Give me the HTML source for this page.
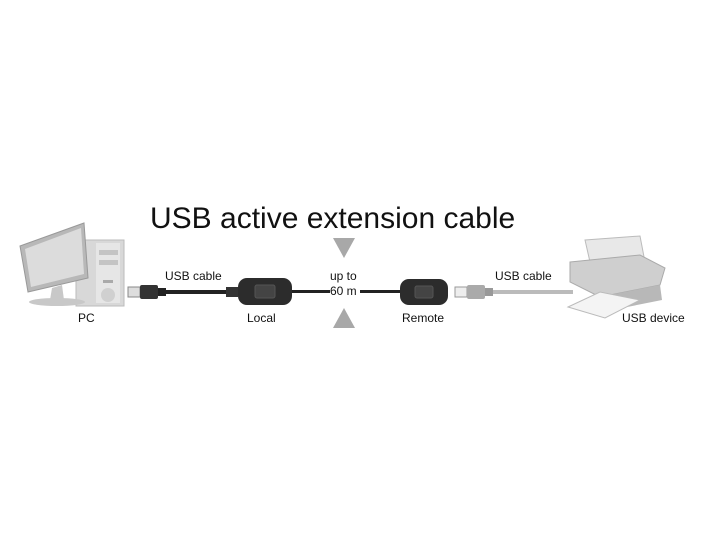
<!DOCTYPE html>
<html><head><style>body{margin:0;background:#fff}svg{display:block}text{font-family:"Liberation Sans",sans-serif;fill:#111}</style></head>
<body>
<svg width="706" height="549" viewBox="0 0 706 549">
<text x="150" y="228" font-size="30">USB active extension cable</text>
<polygon points="333,238 355,238 344,258" fill="#a8a8a8"/>
<polygon points="333,328 355,328 344,308" fill="#a8a8a8"/>
<!-- PC -->
<rect x="76" y="240" width="48" height="66" fill="#d8d8d8" stroke="#bbb"/>
<rect x="96" y="243" width="24" height="60" fill="#e6e6e6"/>
<rect x="99" y="250" width="19" height="5" fill="#c4c4c4"/>
<rect x="99" y="260" width="19" height="5" fill="#c4c4c4"/>
<rect x="103" y="280" width="10" height="3" fill="#aaa"/>
<circle cx="108" cy="295" r="7" fill="#d0d0d0"/>
<polygon points="20,246 84,223 88,278 28,292" fill="#b8b8b8" stroke="#999"/>
<polygon points="25,249 81,228 84,274 31,287" fill="#dcdcdc"/>
<polygon points="52,288 62,285 64,300 50,300" fill="#c8c8c8"/>
<ellipse cx="57" cy="302" rx="28" ry="4" fill="#c8c8c8"/>
<!-- left cable -->
<rect x="128" y="287" width="12" height="10" fill="#ddd" stroke="#888"/>
<rect x="140" y="285" width="18" height="14" rx="2" fill="#333"/>
<rect x="158" y="288" width="8" height="8" fill="#222"/>
<rect x="166" y="290" width="66" height="4" fill="#222"/>
<rect x="226" y="287" width="12" height="10" fill="#333"/>
<rect x="238" y="278" width="54" height="27" rx="9" fill="#2c2c2c"/>
<rect x="255" y="285" width="20" height="13" rx="2" fill="#444" stroke="#555"/>
<rect x="292" y="290" width="38" height="3" fill="#222"/>
<rect x="360" y="290" width="42" height="3" fill="#222"/>
<rect x="400" y="279" width="48" height="26" rx="9" fill="#2c2c2c"/>
<rect x="415" y="286" width="18" height="12" rx="2" fill="#444" stroke="#555"/>
<!-- right cable -->
<rect x="455" y="287" width="12" height="10" fill="#eee" stroke="#999"/>
<rect x="467" y="285" width="18" height="14" rx="2" fill="#aaa"/>
<rect x="485" y="288" width="8" height="8" fill="#999"/>
<rect x="493" y="290" width="80" height="4" fill="#bbb"/>
<!-- printer -->
<polygon points="585,240 640,236 645,262 590,262" fill="#e8e8e8" stroke="#bbb"/>
<polygon points="570,262 640,255 665,268 660,285 600,297 570,282" fill="#cfcfcf" stroke="#aaa"/>
<polygon points="600,297 660,285 662,300 602,312" fill="#b8b8b8"/>
<polygon points="568,307 600,292 640,300 605,318" fill="#f4f4f4" stroke="#bbb"/>
<text x="165" y="280" font-size="12">USB cable</text>
<text x="330" y="280" font-size="12">up to</text>
<text x="330" y="295" font-size="12">60 m</text>
<text x="495" y="280" font-size="12">USB cable</text>
<text x="78" y="322" font-size="12">PC</text>
<text x="247" y="322" font-size="12">Local</text>
<text x="402" y="322" font-size="12">Remote</text>
<text x="622" y="322" font-size="12">USB device</text>
</svg>
</body></html>
